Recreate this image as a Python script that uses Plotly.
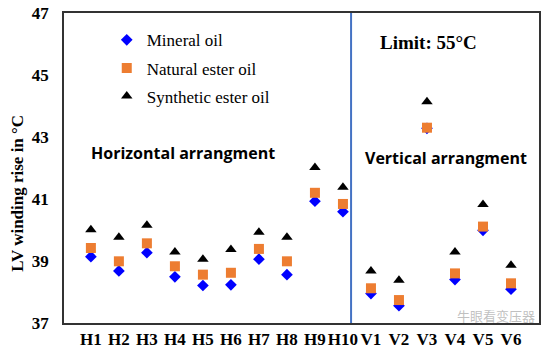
import plotly.graph_objects as go

categories = ["H1", "H2", "H3", "H4", "H5", "H6", "H7", "H8", "H9", "H10",
              "V1", "V2", "V3", "V4", "V5", "V6"]
mineral = [39.14, 38.68, 39.27, 38.49, 38.21, 38.23, 39.06, 38.56, 40.93, 40.59,
           37.95, 37.56, 43.28, 38.40, 39.99, 38.09]
natural = [39.42, 38.99, 39.57, 38.83, 38.56, 38.62, 39.39, 38.99, 41.20, 40.84,
           38.12, 37.74, 43.30, 38.60, 40.11, 38.28]
synthetic = [40.01, 39.77, 40.15, 39.29, 39.06, 39.37, 39.93, 39.77, 42.02, 41.38,
             38.68, 38.38, 44.14, 39.29, 40.82, 38.86]
y_ticks = [37, 39, 41, 43, 45, 47]

serif = "Liberation Serif, Times New Roman, serif"
fig = go.Figure()
fig.add_trace(go.Scatter(x=categories, y=mineral, mode="markers", name="Mineral oil",
                         legendgroup="a",
                         marker=dict(symbol="diamond", color="#0000FF", size=9)))
fig.add_trace(go.Scatter(x=categories, y=natural, mode="markers", name="Natural ester oil",
                         legendgroup="b",
                         marker=dict(symbol="square", color="#ED7D31", size=10)))
fig.add_trace(go.Scatter(x=categories, y=synthetic, mode="markers", name="Synthetic ester oil",
                         legendgroup="c",
                         marker=dict(symbol="triangle-up", color="#000000", size=10)))

fig.add_shape(type="line", xref="x", yref="paper", x0=9.29, x1=9.29, y0=0, y1=1,
              line=dict(color="#4472C4", width=2))

fig.add_annotation(text="Horizontal arrangment", xref="paper", yref="paper",
                   x=0.052, y=0.548, xanchor="left", yanchor="middle", showarrow=False,
                   font=dict(family="Open Sans", size=16, color="black", weight="bold"))
fig.add_annotation(text="Vertical arrangment", xref="paper", yref="paper",
                   x=0.63, y=0.532, xanchor="left", yanchor="middle", showarrow=False,
                   font=dict(family="Open Sans", size=16, color="black", weight="bold"))
fig.add_annotation(text="Limit: 55°C", xref="paper", yref="paper",
                   x=0.661, y=0.904, xanchor="left", yanchor="middle", showarrow=False,
                   font=dict(family=serif, size=19, color="black", weight="bold"))
fig.add_annotation(text="LV winding rise in °C", xref="paper", yref="paper",
                   x=-0.098, y=0.418, xanchor="center", yanchor="middle", showarrow=False,
                   textangle=-90,
                   font=dict(family=serif, size=17, color="black", weight="bold"))
fig.add_annotation(text="牛眼看变压器", xref="paper", yref="paper",
                   x=0.995, y=0.025, xanchor="right", yanchor="middle", showarrow=False,
                   font=dict(family="Noto Sans CJK SC", size=13, color="rgba(150,150,150,0.6)"))

fig.update_layout(
    width=545, height=353,
    margin=dict(l=64, r=4, t=12, b=30),
    plot_bgcolor="white", paper_bgcolor="white",
    showlegend=True,
    legend=dict(x=0.09, y=0.97, xanchor="left", yanchor="top",
                bgcolor="rgba(0,0,0,0)", itemwidth=30, tracegroupgap=3,
                font=dict(family=serif, size=17, color="black")),
    xaxis=dict(range=[-0.96, 16.0], showgrid=False, showline=True, mirror=True,
               linecolor="#333", linewidth=1.5, ticks="", tickangle=0, automargin=False,
               tickfont=dict(family=serif, size=17, color="black", weight="bold")),
    yaxis=dict(range=[37, 47], tickvals=y_ticks, showgrid=False, showline=True, mirror=True,
               linecolor="#333", linewidth=1.5, ticks="", zeroline=False,
               ticklabelstandoff=10,
               tickfont=dict(family=serif, size=17, color="black", weight="bold")),
)

fig.write_html("out.html")
